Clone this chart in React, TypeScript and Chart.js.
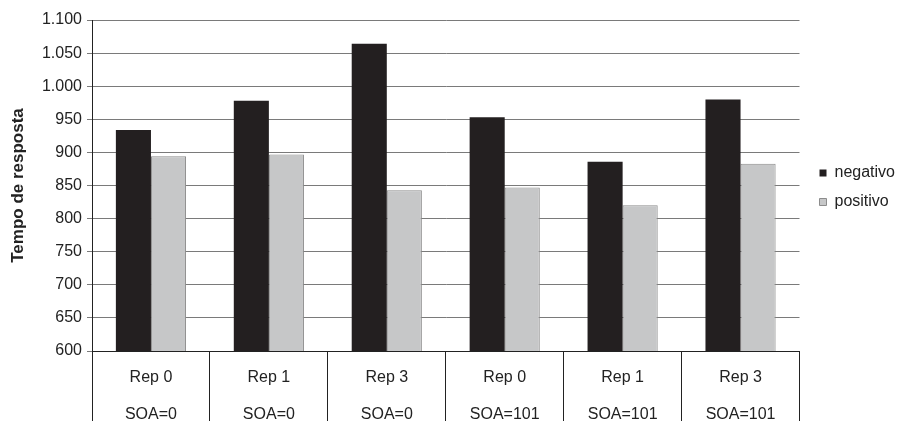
import React, { useEffect, useRef } from "react";
import { Chart, registerables } from "chart.js";

Chart.register(...registerables);

const repLabels = ["Rep 0", "Rep 1", "Rep 3", "Rep 0", "Rep 1", "Rep 3"];
const soaLabels = ["SOA=0", "SOA=0", "SOA=0", "SOA=101", "SOA=101", "SOA=101"];
const negativo = [934, 978, 1064, 953, 886, 980];
const positivo = [894, 897, 843, 847, 820, 883];
const seriesNames = ["negativo", "positivo"];
const yTitle = "Tempo de resposta";

const FONT = "'Liberation Sans', Arial, sans-serif";

function fmt(v: number): string {
  if (v >= 1000) {
    const t = Math.floor(v / 1000);
    const r = String(v % 1000).padStart(3, "0");
    return `${t}.${r}`;
  }
  return String(v);
}

const legendShift = {
  id: "legendShift",
  afterLayout(chart: any) {
    const lg = chart.legend;
    if (lg) {
      const w = lg.width;
      lg.left = chart.chartArea.right + 7;
      lg.right = lg.left + w;
      lg.top += 2;
      lg.bottom += 2;
    }
  },
};

export default function App() {
  const ref = useRef<HTMLCanvasElement | null>(null);

  useEffect(() => {
    document.body.style.margin = "0";
    const canvas = ref.current;
    if (!canvas) return;
    const chart = new Chart(canvas, {
      type: "bar",
      data: {
        labels: repLabels.map((r, i) => [r, soaLabels[i]]),
        datasets: [
          {
            label: seriesNames[0],
            data: negativo,
            backgroundColor: "#231f20",
            borderColor: "#231f20",
            borderWidth: 0,
            categoryPercentage: 0.595,
            barPercentage: 1.0,
          },
          {
            label: seriesNames[1],
            data: positivo,
            backgroundColor: "#c6c7c8",
            borderColor: "#8c8c8c",
            borderWidth: 1,
            categoryPercentage: 0.595,
            barPercentage: 1.0,
          },
        ],
      },
      plugins: [legendShift],
      options: {
        responsive: false,
        animation: false,
        maintainAspectRatio: false,
        layout: { padding: { top: 20, right: 6, left: 0, bottom: 0 } },
        plugins: {
          tooltip: { enabled: false },
          legend: {
            position: "right",
            fullSize: false,
            labels: {
              boxWidth: 7,
              boxHeight: 7,
              padding: 13,
              color: "#222",
              font: { family: FONT, size: 16 },
            },
          },
        },
        scales: {
          x: {
            offset: true,
            grid: {
              display: true,
              offset: true,
              drawOnChartArea: false,
              drawTicks: true,
              tickLength: 70,
              color: "#222",
              lineWidth: 1,
            },
            border: { display: true, color: "#222", width: 1 },
            ticks: {
              autoSkip: false,
              maxRotation: 0,
              minRotation: 0,
              padding: -62,
              color: "#222",
              font: { family: FONT, size: 16, lineHeight: 2.3 },
            },
            afterFit: (scale: any) => {
              scale.height = 70;
            },
          },
          y: {
            min: 600,
            max: 1100,
            grid: {
              color: "#7a7a7a",
              lineWidth: 1,
              tickLength: 5,
            },
            border: { display: true, color: "#222", width: 1 },
            ticks: {
              stepSize: 50,
              padding: 5,
              color: "#222",
              font: { family: FONT, size: 16 },
              callback: (v: any) => fmt(Number(v)),
            },
            title: {
              display: true,
              text: yTitle,
              color: "#222",
              padding: { top: 8, bottom: 0 },
              font: { family: FONT, size: 17, weight: "bold" },
            },
            afterFit: (scale: any) => {
              scale.width = 92;
            },
          },
        },
      },
    });
    return () => chart.destroy();
  }, []);

  return <canvas ref={ref} width={904} height={421} style={{ display: "block" }} />;
}
